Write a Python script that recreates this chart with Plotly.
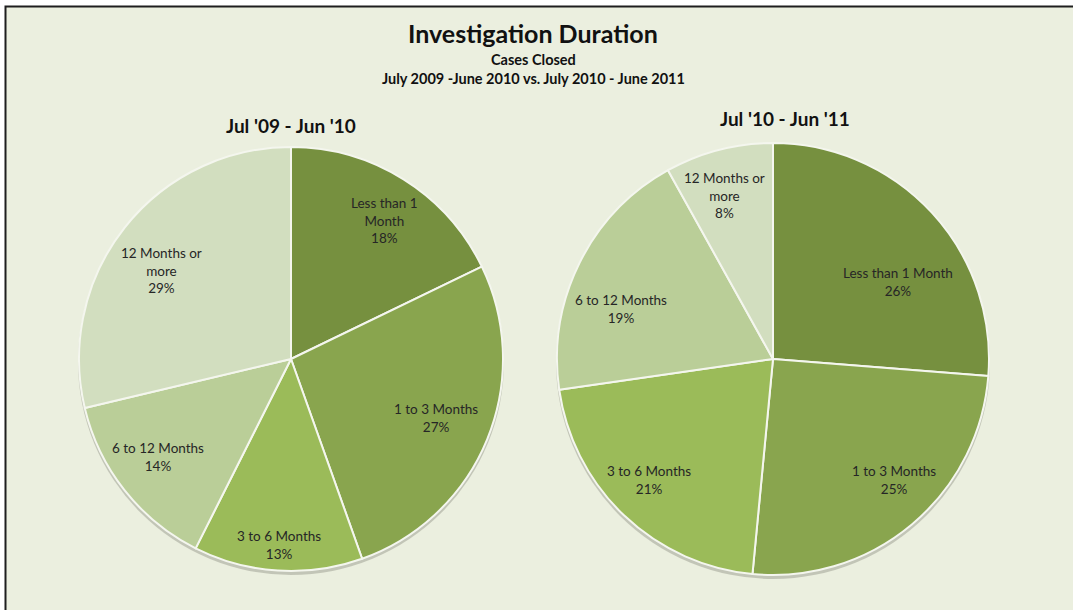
import math
import plotly.graph_objects as go

categories = ["Less than 1 Month", "1 to 3 Months", "3 to 6 Months", "6 to 12 Months", "12 Months or more"]
share_0910 = [18, 27, 13, 14, 29]
share_1011 = [26, 25, 21, 19, 8]

# label line-breaking as in the original chart
labels_0910 = ["Less than 1<br>Month", "1 to 3 Months", "3 to 6 Months", "6 to 12 Months", "12 Months or<br>more"]
labels_1011 = ["Less than 1 Month", "1 to 3 Months", "3 to 6 Months", "6 to 12 Months", "12 Months or<br>more"]

colors = ["#76903F", "#89A54E", "#9BBB59", "#BACE98", "#D2DEBF"]

title = "Investigation Duration"
subtitle1 = "Cases Closed"
subtitle2 = "July 2009 -June 2010 vs. July 2010 - June 2011"
pie_titles = ["Jul '09 - Jun '10", "Jul '10 - Jun '11"]

W, H = 1073, 610
FONT = "Lato, 'Open Sans', sans-serif"

# pie geometry (pixels): left, right, top, bottom
pies = [
    dict(vals=share_0910, labels=labels_0910, box=(79, 503, 147, 571),
         frac=[0.79, 0.74, 0.88, 0.78, 0.74], nudge=[2, 0, 0, 2, -4]),
    dict(vals=share_1011, labels=labels_1011, box=(557, 989, 143, 575),
         frac=[0.68, 0.79, 0.80, 0.74, 0.79], nudge=[11, -5, 2, -8, -2]),
]

fig = go.Figure()
fig.add_shape(type="rect", xref="paper", yref="paper",
              x0=5.5 / W, x1=1.02, y0=-0.02, y1=1 - 6.5 / H,
              fillcolor="#EBEFDF", line=dict(color="#1E1E1E", width=2), layer="below")

for p in pies:
    x0, x1, yt, yb = p["box"]
    cx, cy, r = (x0 + x1) / 2, (yt + yb) / 2, (x1 - x0) / 2
    # soft shadow below the pie
    fig.add_shape(type="circle", xref="paper", yref="paper",
                  x0=(cx - r - 1) / W, x1=(cx + r + 1) / W,
                  y0=1 - (cy + r + 4) / H, y1=1 - (cy - r + 2) / H,
                  fillcolor="rgba(90,90,80,0.28)", line=dict(width=0), layer="below")
    fig.add_trace(go.Pie(
        labels=categories, values=p["vals"], sort=False, direction="clockwise", rotation=0,
        marker=dict(colors=colors, line=dict(color="#F4F6EE", width=2)),
        textinfo="none", hoverinfo="label+percent", showlegend=False,
        domain=dict(x=[x0 / W, x1 / W], y=[1 - yb / H, 1 - yt / H]),
    ))
    total = sum(p["vals"])
    cum = 0
    for v, lab, fr, nd in zip(p["vals"], p["labels"], p["frac"], p["nudge"]):
        mid = (cum + v / 2) / total * 360 + nd
        cum += v
        a = math.radians(mid)
        lx = cx + fr * r * math.sin(a)
        ly = cy - fr * r * math.cos(a)
        fig.add_annotation(text=f"{lab}<br>{v}%", x=lx / W, y=1 - ly / H,
                           xref="paper", yref="paper", showarrow=False,
                           font=dict(family=FONT, size=13.5, color="#262626"),
                           xanchor="center", yanchor="middle", align="center")

def ann(text, xpx, ypx, size):
    fig.add_annotation(text=f"<b>{text}</b>", x=xpx / W, y=1 - ypx / H,
                       xref="paper", yref="paper", showarrow=False,
                       font=dict(family=FONT, size=size, color="#111111"),
                       xanchor="center", yanchor="middle")

ann(title, 533, 33, 25)
ann(subtitle1, 533, 59, 14.5)
ann(subtitle2, 533, 79, 14.5)
ann(pie_titles[0], 291, 125, 19)
ann(pie_titles[1], 785, 118, 19)

fig.update_layout(width=W, height=H, margin=dict(l=0, r=0, t=0, b=0),
                  paper_bgcolor="white", plot_bgcolor="white")
fig.write_html("out.html", config={"displayModeBar": False},
               post_script="document.body.style.margin='0';document.body.style.overflow='hidden';")
